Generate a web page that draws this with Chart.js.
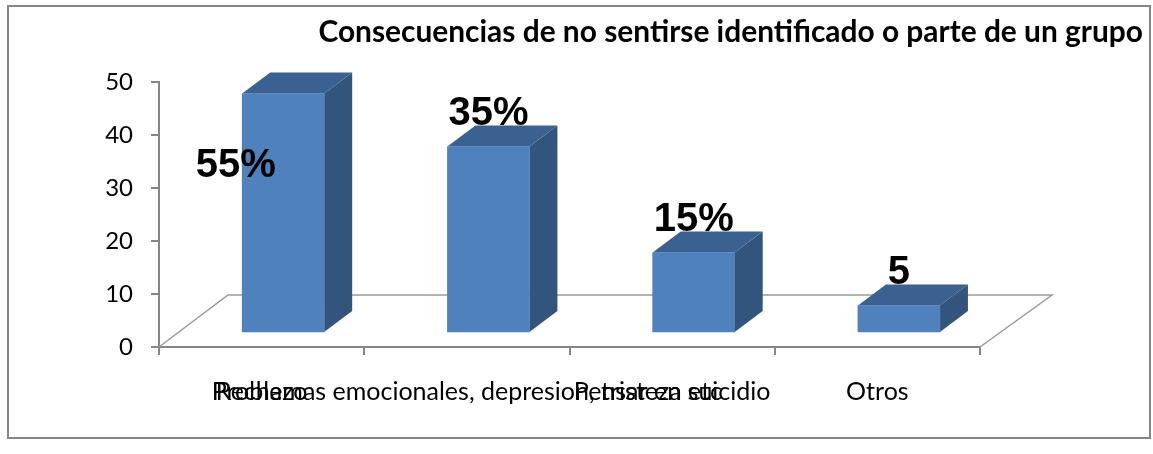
<!DOCTYPE html>
<html><head><meta charset="utf-8">
<style>html,body{margin:0;padding:0;background:#fff}#w{position:relative;width:1153px;height:454px}</style>
<script src="https://cdn.jsdelivr.net/npm/chart.js@4"></script>
</head><body><div id="w"><canvas id="c" width="1153" height="454"></canvas></div>
<script>
const categories = ["Rechazo", "Problemas emocionales, depresion, tristeza etc", "Pensar en suicidio", "Otros"];
const values = [45, 35, 15, 5];
const valueLabels = ["55%", "35%", "15%", "5"];
const yTickStep = 10;
const titleText = "Consecuencias de no sentirse identificado o parte de un grupo";

const GREY = "#868686";
const uiFont = "Lato";
const box3d = {
  id: "box3d",
  beforeDraw(chart) {
    const ctx = chart.ctx;
    ctx.save();
    ctx.fillStyle = "#fff";
    ctx.fillRect(0, 0, chart.width, chart.height);
    ctx.strokeStyle = GREY; ctx.lineWidth = 2;
    ctx.strokeRect(8, 6, 1142, 432);
    ctx.restore();
  },
  beforeDatasetsDraw(chart) {
    const ctx = chart.ctx, a = chart.chartArea;
    // floor
    ctx.save();
    ctx.strokeStyle = "#9a9a9a"; ctx.lineWidth = 1.5;
    ctx.beginPath();
    ctx.moveTo(a.left, a.bottom);
    ctx.lineTo(a.left + 69, a.bottom - 52);
    ctx.lineTo(a.right + 72, a.bottom - 52);
    ctx.lineTo(a.right, a.bottom);
    ctx.stroke();
    // box faces
    const dx = 28, dy = 21;
    chart.getDatasetMeta(0).data.forEach(b => {
      const p = b.getProps(["x", "y", "base", "width"], true);
      const l = p.x - p.width / 2, r = p.x + p.width / 2;
      ctx.fillStyle = "#33557d";
      ctx.beginPath();
      ctx.moveTo(r, p.y); ctx.lineTo(r + dx, p.y - dy);
      ctx.lineTo(r + dx, p.base - dy); ctx.lineTo(r, p.base);
      ctx.closePath(); ctx.fill();
      ctx.fillStyle = "#3a6190";
      ctx.beginPath();
      ctx.moveTo(l, p.y); ctx.lineTo(l + dx, p.y - dy);
      ctx.lineTo(r + dx, p.y - dy); ctx.lineTo(r, p.y);
      ctx.closePath(); ctx.fill();
    });
    ctx.restore();
  },
  afterDatasetsDraw(chart) {
    const ctx = chart.ctx;
    ctx.save();
    ctx.fillStyle = "#000";
    ctx.font = "bold 40px 'Liberation Sans'";
    ctx.textAlign = "center"; ctx.textBaseline = "middle";
    chart.getDatasetMeta(0).data.forEach((b, i) => {
      const moved = i === 0;
      const x = b.x + (moved ? -47.5 : 0);
      const y = b.y + (moved ? 72 : -33);
      ctx.fillText(valueLabels[i], x, y);
    });
    ctx.restore();
  }
};

new Chart(document.getElementById("c"), {
  type: "bar",
  plugins: [box3d],
  data: {
    labels: categories,
    datasets: [{
      label: "Consecuencias",
      data: values.map((v, i) => ({ x: i, y: v })),
      xAxisID: "xBars", yAxisID: "yBars",
      backgroundColor: "#4f81bd",
      barThickness: 82
    }]
  },
  options: {
    responsive: false,
    animation: false,
    layout: { padding: { right: 10 } },
    plugins: {
      legend: { display: false },
      tooltip: { enabled: false },
      title: {
        display: true, text: titleText, align: "end", color: "#000",
        font: { family: uiFont, size: 29.9, weight: "bold", lineHeight: 1.2 },
        padding: { top: 14, bottom: 32.1 }
      }
    },
    scales: {
      x: {
        type: "category", offset: true, position: "bottom",
        afterFit(s) { s.height = 107; },
        grid: { offset: true, drawOnChartArea: false, drawTicks: true, tickLength: 8, color: GREY, lineWidth: 2 },
        border: { color: GREY, width: 2 },
        ticks: { color: "#000", padding: 22, maxRotation: 0, minRotation: 0, autoSkip: false, font: { family: uiFont, size: 25 } }
      },
      y: {
        type: "linear", position: "left", min: 0, max: 50,
        afterFit(s) { s.width = 159; },
        grid: { drawOnChartArea: false, tickLength: 8, color: GREY, lineWidth: 2 },
        border: { color: GREY, width: 2 },
        ticks: { stepSize: yTickStep, color: "#000", padding: 18, font: { family: uiFont, size: 24 } }
      },
      xBars: { type: "linear", display: false, offset: false, grid: { offset: false }, min: -0.605, max: 3.395 },
      yBars: {
        type: "linear", position: "right", min: -2.83, max: 47.17,
        afterFit(s) { s.width = 163; },
        grid: { display: false }, border: { display: false }, ticks: { display: false }
      }
    }
  }
});
</script></body></html>
